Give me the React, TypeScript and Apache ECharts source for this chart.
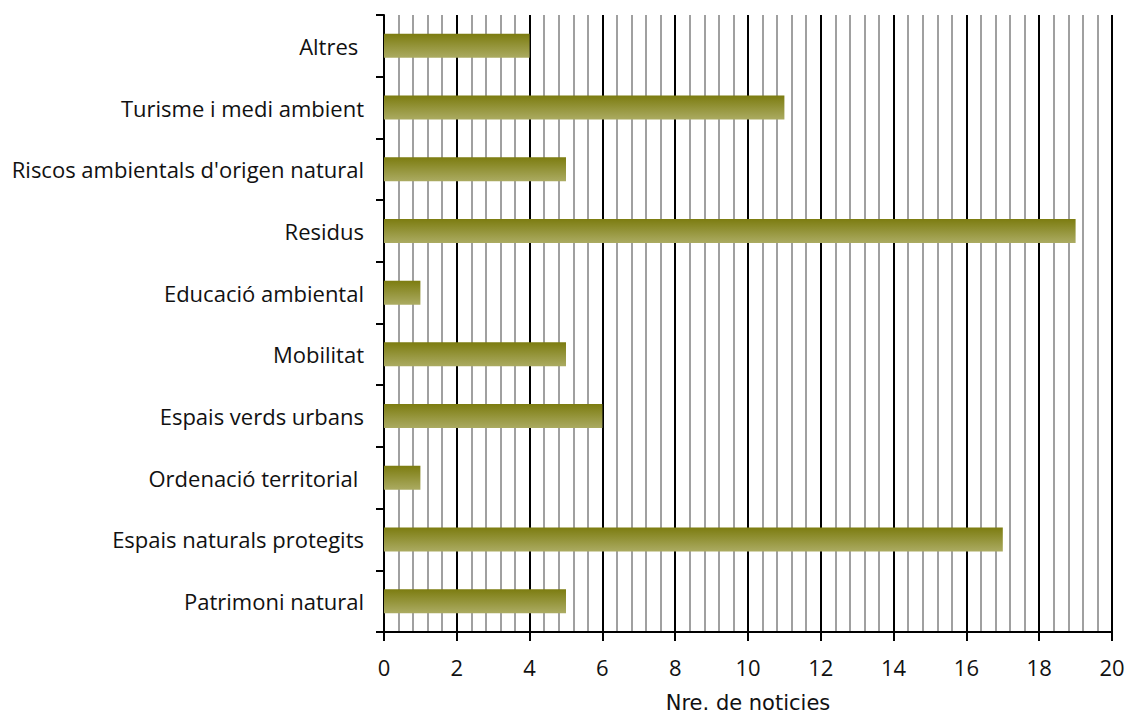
import React, { useEffect, useRef } from "react";
import * as echarts from "echarts";

const categories = [
  "Patrimoni natural",
  "Espais naturals protegits",
  "Ordenació territorial ",
  "Espais verds urbans",
  "Mobilitat",
  "Educació ambiental",
  "Residus",
  "Riscos ambientals d'origen natural",
  "Turisme i medi ambient",
  "Altres ",
];
const values = [5, 17, 1, 6, 5, 1, 19, 5, 11, 4];
const xTicks = [0, 2, 4, 6, 8, 10, 12, 14, 16, 18, 20];
const axisTitle = "Nre. de noticies";

export default function App() {
  const ref = useRef<HTMLDivElement>(null);
  useEffect(() => {
    const chart = echarts.init(ref.current!, null, { renderer: "svg" });
    const font = "Open Sans";
    chart.setOption({
      animation: false,
      backgroundColor: "#ffffff",
      grid: { left: 384, right: 18, top: 15, bottom: 85, outerBoundsMode: "none", containLabel: false },
      xAxis: {
        type: "value",
        min: xTicks[0],
        max: xTicks[xTicks.length - 1],
        interval: 2,
        name: axisTitle,
        nameLocation: "middle",
        nameGap: 61,
        nameTextStyle: { fontFamily: "DejaVu Sans", fontSize: 21, lineHeight: 20, color: "#111" },
        axisLine: { show: true, lineStyle: { color: "#000", width: 2 } },
        axisTick: { show: true, length: 9, lineStyle: { color: "#000", width: 2 } },
        axisLabel: { fontFamily: font, fontSize: 22, color: "#111", margin: 24 },
        splitLine: { show: true, lineStyle: { color: "#000", width: 2 } },
        minorTick: { show: true, splitNumber: 5, length: 0, lineStyle: { opacity: 0 } },
        minorSplitLine: { show: true, lineStyle: { color: "#a0a0a0", width: 2 } },
      },
      yAxis: {
        type: "category",
        data: categories,
        boundaryGap: true,
        axisLine: { show: true, lineStyle: { color: "#000", width: 2 } },
        axisTick: { show: true, length: 8, lineStyle: { color: "#000", width: 2 } },
        axisLabel: { fontFamily: font, fontSize: 22, color: "#111", margin: 20 },
        splitLine: { show: false },
      },
      series: [
        {
          type: "bar",
          data: values,
          barWidth: 24,
          z: 5,
          itemStyle: {
            color: new echarts.graphic.LinearGradient(0, 0, 0, 1, [
              { offset: 0, color: "#7c7c10" },
              { offset: 1, color: "#abab62" },
            ]),
          },
        },
      ],
    });
    return () => chart.dispose();
  }, []);
  return (
    <div
      ref={ref}
      style={{ position: "fixed", left: 0, top: 0, width: 1130, height: 717 }}
    />
  );
}
